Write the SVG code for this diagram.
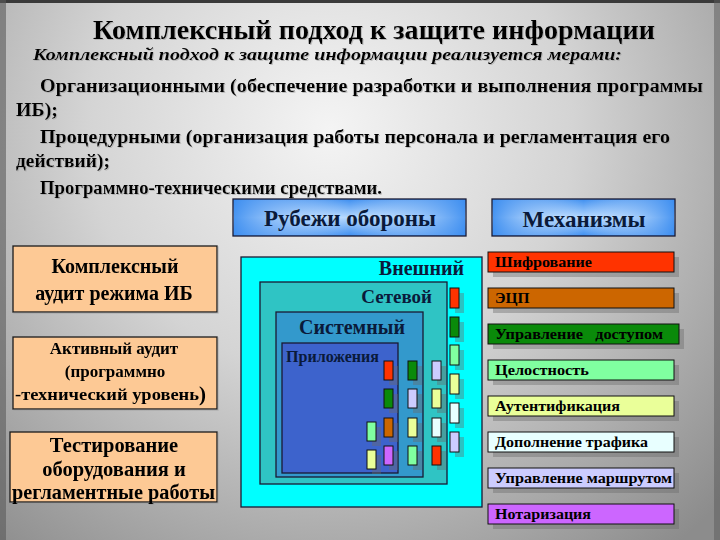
<svg xmlns="http://www.w3.org/2000/svg" width="720" height="540" viewBox="0 0 720 540">
<defs>
<radialGradient id="bg" cx="330" cy="130" r="540" gradientUnits="userSpaceOnUse">
<stop offset="0" stop-color="#f4f4f4"/>
<stop offset="0.45" stop-color="#d4d4d4"/>
<stop offset="1" stop-color="#8c8c8c"/>
</radialGradient>
<linearGradient id="hdr" x1="0" y1="0" x2="0" y2="1">
<stop offset="0" stop-color="#3d8ef0"/>
<stop offset="0.5" stop-color="#b4d8ff"/>
<stop offset="1" stop-color="#3d8ef0"/>
</linearGradient>
<linearGradient id="hdrh" x1="0" y1="0" x2="1" y2="0">
<stop offset="0" stop-color="#3d8ef0" stop-opacity="0.9"/>
<stop offset="0.5" stop-color="#ffffff" stop-opacity="0"/>
<stop offset="1" stop-color="#3d8ef0" stop-opacity="0.9"/>
</linearGradient>
<filter id="ts" x="-5%" y="-20%" width="110%" height="150%">
<feOffset dx="1.2" dy="1.2" in="SourceAlpha" result="o"/>
<feFlood flood-color="#9a9a9a" flood-opacity="0.55"/>
<feComposite in2="o" operator="in" result="s"/>
<feMerge><feMergeNode in="s"/><feMergeNode in="SourceGraphic"/></feMerge>
</filter>
</defs>
<style>
text{font-family:"Liberation Serif","DejaVu Serif","Times New Roman",serif;font-weight:bold;fill:#000}
.it{font-style:italic}
.box{stroke:#1a1a33;stroke-width:1.3}
.peach{fill:#fdc995;stroke:#1a1a1a;stroke-width:1.3}
.sh{fill:#6a6a6a;opacity:0.4}
.sq{stroke:#111;stroke-width:1}
.mech{font-size:15.5px}
.left{text-anchor:middle}
.lbl{fill:#0a1a3a}
.red{fill:#ff3300}.grn{fill:#0a8a0a}.lgr{fill:#80ffa0}.lye{fill:#eaff99}.lcy{fill:#e8ffff}.lav{fill:#ccccff}.org{fill:#cc6600}.pur{fill:#cc66ff}
</style>
<rect x="0" y="0" width="720" height="540" fill="url(#bg)"/>
<rect x="0" y="0" width="720" height="3" fill="#3a3a3a"/>
<rect x="0" y="0" width="6" height="540" fill="#5a5a5a" opacity="0.6"/>
<rect x="714" y="0" width="6" height="540" fill="#5a5a5a" opacity="0.5"/>

<g id="title" filter="url(#ts)">
<text x="93" y="39" font-size="27" textLength="562" lengthAdjust="spacingAndGlyphs">Комплексный подход к защите информации</text>
<text class="it" x="33" y="60" font-size="17.5" textLength="589" lengthAdjust="spacingAndGlyphs">Комплексный подход к защите информации реализуется мерами:</text>
<text x="40" y="92" font-size="18.5" textLength="663" lengthAdjust="spacingAndGlyphs">Организационными (обеспечение разработки и выполнения программы</text>
<text x="16" y="116" font-size="18.5" textLength="42" lengthAdjust="spacingAndGlyphs">ИБ);</text>
<text x="40" y="143" font-size="18.5" textLength="630" lengthAdjust="spacingAndGlyphs">Процедурными (организация работы персонала и регламентация его</text>
<text x="16" y="167" font-size="18.5" textLength="94" lengthAdjust="spacingAndGlyphs">действий);</text>
<text x="40" y="194" font-size="18.5" textLength="342" lengthAdjust="spacingAndGlyphs">Программно-техническими средствами.</text>
</g>

<g id="hdr-rubezhi">
<rect class="box" x="233" y="199" width="233" height="37" fill="url(#hdr)"/>
<rect x="234" y="200" width="231" height="35" fill="url(#hdrh)"/>
<text class="lbl" x="350" y="226" font-size="23" text-anchor="middle">Рубежи обороны</text>
</g>
<g id="hdr-mech">
<rect class="box" x="492" y="199" width="183" height="37" fill="url(#hdr)"/>
<rect x="493" y="200" width="181" height="35" fill="url(#hdrh)"/>
<text class="lbl" x="584" y="227" font-size="23" text-anchor="middle">Механизмы</text>
</g>

<g id="left1" filter="url(#ts)">
<rect class="peach" x="13" y="246" width="204" height="66"/>
<text class="left" x="115" y="273" font-size="20">Комплексный</text>
<text class="left" x="114" y="300" font-size="20">аудит режима ИБ</text>
</g>
<g id="left2" filter="url(#ts)">
<rect class="peach" x="13" y="337" width="204" height="72"/>
<text class="left" x="114" y="354" font-size="17">Активный аудит</text>
<text class="left" x="115" y="377" font-size="17">(программно</text>
<text x="15" y="400" font-size="17" textLength="184" lengthAdjust="spacingAndGlyphs">-технический уровень</text>
<text x="199" y="401" font-size="21">)</text>
</g>
<g id="left3" filter="url(#ts)">
<rect class="peach" x="10" y="432" width="207" height="70"/>
<text class="left" x="114" y="452" font-size="20.5">Тестирование</text>
<text class="left" x="114" y="476" font-size="20.5">оборудования и</text>
<text x="12" y="499" font-size="20.5" textLength="203" lengthAdjust="spacingAndGlyphs">регламентные работы</text>
</g>

<g id="ring-external">
<rect class="box" x="241" y="257" width="241" height="250" fill="#00ffff"/>
<text class="lbl" x="464" y="275" font-size="20" text-anchor="end">Внешний</text>
</g>
<g id="ring-network">
<rect class="box" x="260" y="282" width="187" height="202" fill="#2fc4c4"/>
<text class="lbl" x="432" y="303" font-size="19" text-anchor="end">Сетевой</text>
</g>
<g id="ring-system">
<rect class="box" x="276" y="312" width="147" height="165" fill="#3399cc"/>
<text class="lbl" x="352" y="334" font-size="20" text-anchor="middle">Системный</text>
</g>
<g id="ring-apps">
<rect class="box" x="282" y="343" width="116" height="130" fill="#3d63cc"/>
<text class="lbl" x="286" y="362" font-size="16" textLength="93" lengthAdjust="spacingAndGlyphs">Приложения</text>
</g>

<g id="squares">
<g class="sh">
<rect x="455" y="293" width="9" height="20"/><rect x="455" y="322" width="9" height="20"/><rect x="455" y="350" width="9" height="20"/><rect x="455" y="379" width="9" height="20"/><rect x="455" y="408" width="9" height="20"/><rect x="455" y="437" width="9" height="20"/>
<rect x="389" y="366" width="9" height="19"/><rect x="389" y="394" width="9" height="19"/><rect x="389" y="423" width="9" height="19"/><rect x="389" y="451" width="9" height="19"/>
<rect x="413" y="366" width="9" height="19"/><rect x="413" y="394" width="9" height="19"/><rect x="413" y="423" width="9" height="19"/><rect x="413" y="451" width="9" height="19"/>
<rect x="437" y="366" width="9" height="19"/><rect x="437" y="394" width="9" height="19"/><rect x="437" y="423" width="9" height="19"/><rect x="437" y="451" width="9" height="19"/>
<rect x="372" y="427" width="9" height="19"/><rect x="372" y="455" width="9" height="19"/>
</g>
<rect class="sq red" x="450" y="288" width="9" height="20"/>
<rect class="sq grn" x="450" y="317" width="9" height="20"/>
<rect class="sq lgr" x="450" y="345" width="9" height="20"/>
<rect class="sq lye" x="450" y="374" width="9" height="20"/>
<rect class="sq lcy" x="450" y="403" width="9" height="20"/>
<rect class="sq lav" x="450" y="432" width="9" height="20"/>
<rect class="sq red" x="384" y="361" width="9" height="19"/>
<rect class="sq grn" x="384" y="389" width="9" height="19"/>
<rect class="sq org" x="384" y="418" width="9" height="19"/>
<rect class="sq pur" x="384" y="446" width="9" height="19"/>
<rect class="sq grn" x="408" y="361" width="9" height="19"/>
<rect class="sq lav" x="408" y="389" width="9" height="19"/>
<rect class="sq lye" x="408" y="418" width="9" height="19"/>
<rect class="sq lgr" x="408" y="446" width="9" height="19"/>
<rect class="sq lav" x="432" y="361" width="9" height="19"/>
<rect class="sq lye" x="432" y="389" width="9" height="19"/>
<rect class="sq lcy" x="432" y="418" width="9" height="19"/>
<rect class="sq red" x="432" y="446" width="9" height="19"/>
<rect class="sq lgr" x="367" y="422" width="9" height="19"/>
<rect class="sq lye" x="367" y="450" width="9" height="19"/>
</g>

<g id="mech-1"><rect class="sh" x="493" y="257" width="186" height="20"/><rect class="sq red" x="488" y="252" width="186" height="20"/><text class="mech" x="495" y="267" textLength="97" lengthAdjust="spacingAndGlyphs">Шифрование</text></g>
<g id="mech-2"><rect class="sh" x="493" y="293" width="186" height="20"/><rect class="sq org" x="488" y="288" width="186" height="20"/><text class="mech" x="495" y="303">ЭЦП</text></g>
<g id="mech-3"><rect class="sh" x="493" y="329" width="191" height="20"/><rect class="sq grn" x="488" y="324" width="191" height="20"/><text class="mech" x="495" y="339" xml:space="preserve" textLength="168" lengthAdjust="spacingAndGlyphs">Управление   доступом</text></g>
<g id="mech-4"><rect class="sh" x="493" y="365" width="186" height="20"/><rect class="sq lgr" x="488" y="360" width="186" height="20"/><text class="mech" x="495" y="375" textLength="94" lengthAdjust="spacingAndGlyphs">Целостность</text></g>
<g id="mech-5"><rect class="sh" x="493" y="401" width="186" height="20"/><rect class="sq lye" x="488" y="396" width="186" height="20"/><text class="mech" x="495" y="411" textLength="125" lengthAdjust="spacingAndGlyphs">Аутентификация</text></g>
<g id="mech-6"><rect class="sh" x="493" y="437" width="186" height="20"/><rect class="sq lcy" x="488" y="432" width="186" height="20"/><text class="mech" x="495" y="447" textLength="153" lengthAdjust="spacingAndGlyphs">Дополнение трафика</text></g>
<g id="mech-7"><rect class="sh" x="493" y="473" width="186" height="20"/><rect class="sq lav" x="488" y="468" width="186" height="20"/><text class="mech" x="495" y="483" textLength="177" lengthAdjust="spacingAndGlyphs">Управление маршрутом</text></g>
<g id="mech-8"><rect class="sh" x="493" y="509" width="186" height="20"/><rect class="sq pur" x="488" y="504" width="186" height="20"/><text class="mech" x="495" y="519" textLength="96" lengthAdjust="spacingAndGlyphs">Нотаризация</text></g>

<g id="connectors"/>
</svg>
